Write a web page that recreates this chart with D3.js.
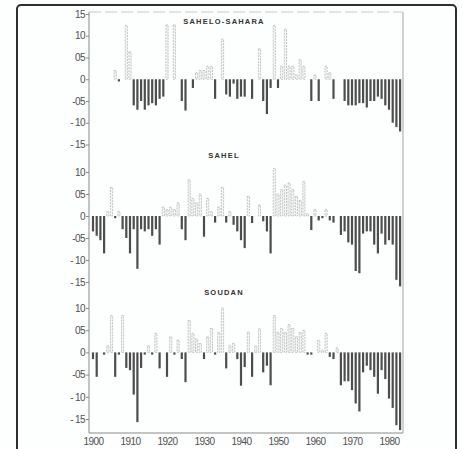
<!doctype html>
<html lang="fr">
  <head>
    <meta charset="UTF-8" />
    <title>Sahelo-Sahara, Sahel, Soudan</title>
    <script src="https://d3js.org/d3.v7.min.js"></script>
    <style>
      body {
        margin: 0;
        padding: 0;
        overflow: hidden;
        background-color: #fdfefe;
        font-family: 'Liberation Sans', Arial, sans-serif;
      }
      svg {
        display: block;
      }
      .tick-label {
        font-size: 10px;
        fill: #505050;
        letter-spacing: -0.6px;
      }
      .panel-title {
        font-size: 7.5px;
        font-weight: bold;
        fill: #333333;
        letter-spacing: 1.2px;
      }
    </style>
  </head>
  <body>
    <div id="chart"></div>
    <script>
      // Years 1900-1983
      const years = d3.range(1900, 1984)

      // Rainfall anomalies (0 = no bar)
      const sahelosahara = [
        0, 0, 0, 0, 0, 0, 0.2, -0.05, 0, 1.24,
        0.63, -0.6, -0.7, -0.5, -0.7, -0.6, -0.55, -0.6, -0.45, -0.4,
        1.25, 0, 1.25, 0, -0.5, -0.72, 0, -0.2, 0.15, 0.2,
        0.2, 0.3, 0.3, -0.45, 0, 0.92, -0.35, -0.4, -0.1, -0.45,
        -0.4, -0.4, 0, -0.45, 0, 0.7, -0.5, -0.8, -0.2, 1.24,
        -0.2, 0.3, 1.15, 0.3, 0.3, 0.1, 0.45, 0.3, 0, -0.5,
        0.1, -0.5, 0, 0.3, 0.15, -0.45, 0, 0, -0.5, -0.6,
        -0.6, -0.6, -0.55, -0.55, -0.65, -0.5, -0.5, -0.4, -0.45, -0.6,
        -0.7, -1.0, -1.1, -1.2,
      ]
      const sahel = [
        -0.35, -0.45, -0.55, -0.85, 0.1, 0.65, -0.05, 0.1, -0.3, -0.5,
        -0.85, -0.3, -1.2, -0.3, -0.35, -0.3, -0.45, -0.3, -0.65, 0.2,
        0.15, 0.2, 0.15, 0.3, -0.3, -0.55, 0.82, 0.4, 0.3, 0.5,
        -0.47, 0.4, 0.1, -0.15, 0.2, 0.65, -0.15, 0.1, -0.2, -0.35,
        -0.55, -0.73, 0.45, -0.16, 0, 0.25, -0.12, -0.35, -0.85, 1.08,
        0.5, 0.6, 0.7, 0.75, 0.6, 0.45, 0.35, 0.78, 0.05, -0.32,
        0.15, -0.1, -0.05, 0.15, -0.1, -0.15, 0, -0.43, -0.35, -0.6,
        -0.65, -1.25, -1.3, -0.4, -0.35, -0.35, -0.65, -0.85, -0.4, -0.65,
        -0.55, -0.65, -1.45, -1.6,
      ]
      const soudan = [
        -0.15, -0.55, 0, -0.05, 0.15, 0.83, -0.55, -0.05, 0.83, -0.35,
        -0.4, -0.95, -1.57, -0.35, -0.05, 0.15, -0.05, 0.43, -0.36, 0,
        -0.55, 0.35, -0.05, 0.28, -0.15, -0.67, 0.72, 0.43, 0.3, 0.2,
        -0.15, 0.35, 0.54, -0.05, 0.45, 1.0, -0.36, 0.15, 0.2, -0.15,
        -0.75, -0.33, 0.46, -0.55, 0.15, 0.53, -0.45, -0.3, -0.74, 0.83,
        0.45, 0.54, 0.45, 0.63, 0.54, 0.35, 0.45, 0.5, -0.05, -0.05,
        0, 0.27, 0.05, 0.43, -0.1, -0.15, 0.1, -0.74, -0.65, -0.65,
        -0.85, -1.15, -1.33, -0.45, -0.3, -0.4, -0.55, -0.93, -0.4, -0.6,
        -1.04, -1.25, -1.64, -1.75,
      ]

      const panelTitles = ['SAHELO-SAHARA', 'SAHEL', 'SOUDAN']
      const yearTicks = [1900, 1910, 1920, 1930, 1940, 1950, 1960, 1970, 1980]
      const topTicks = [1.5, 1.0, 0.5, 0, -0.5, -1.0, -1.5]
      const lowTicks = [1.0, 0.5, 0, -0.5, -1.0, -1.5]
      const tickText = { 1.5: '15', 1: '10', 0.5: '05', 0: '0', '-0.5': '-05', '-1': '- 10', '-1.5': '- 15' }

      const width = 463
      const height = 449
      const plotLeft = 89
      const plotRight = 403
      const plotTop = 12
      const plotBottom = 433

      const svg = d3
        .select('#chart')
        .append('svg')
        .attr('width', width)
        .attr('height', height)

      // Outer frame (bottom edge runs off the picture)
      svg
        .append('rect')
        .attr('x', 17)
        .attr('y', 5)
        .attr('width', 439)
        .attr('height', 520)
        .attr('rx', 4)
        .attr('fill', 'none')
        .attr('stroke', '#2e2e2e')
        .attr('stroke-width', 2)

      const xScale = d3.scaleLinear().domain([1900, 1980]).range([93, 389])
      const barW = 2.2

      const panels = [
        { title: panelTitles[0], values: sahelosahara, domain: [-1.5, 1.5], range: [144.5, 14], ticks: topTicks, titleY: 24 },
        { title: panelTitles[1], values: sahel, domain: [-1.5, 1.0], range: [282, 172], ticks: lowTicks, titleY: 158 },
        { title: panelTitles[2], values: soudan, domain: [-1.5, 1.0], range: [419, 308], ticks: lowTicks, titleY: 295 },
      ]

      panels.forEach((p) => {
        const y = d3.scaleLinear().domain(p.domain).range(p.range)
        const g = svg.append('g')

        // y axis ticks
        const axis = g
          .append('g')
          .attr('transform', `translate(${plotLeft}, 0)`)
          .call(
            d3
              .axisLeft(y)
              .tickValues(p.ticks)
              .tickSize(3)
              .tickFormat((d) => tickText[d])
          )
        axis.select('.domain').remove()
        axis.selectAll('.tick line').attr('stroke', '#888888')
        axis
          .selectAll('.tick text')
          .attr('class', 'tick-label')
          .attr('x', -4)
          .style('font-family', "'Liberation Sans', Arial, sans-serif")

        // bars
        const data = years.map((yr, i) => ({ year: yr, value: p.values[i] })).filter((d) => d.value !== 0)

        g.selectAll('.pos')
          .data(data.filter((d) => d.value > 0))
          .enter()
          .append('rect')
          .attr('x', (d) => xScale(d.year) - barW / 2)
          .attr('y', (d) => y(d.value))
          .attr('width', barW)
          .attr('height', (d) => y(0) - y(d.value))
          .attr('fill', '#f3f4f4')
          .attr('stroke', '#a3a3a3')
          .attr('stroke-width', 0.6)
          .attr('stroke-dasharray', '2,1')

        g.selectAll('.neg')
          .data(data.filter((d) => d.value < 0))
          .enter()
          .append('rect')
          .attr('x', (d) => xScale(d.year) - barW / 2)
          .attr('y', y(0))
          .attr('width', barW)
          .attr('height', (d) => y(d.value) - y(0))
          .attr('fill', '#4d4d4d')

        g.append('text')
          .attr('class', 'panel-title')
          .attr('x', 224)
          .attr('y', p.titleY)
          .attr('text-anchor', 'middle')
          .text(p.title)
      })

      // plot frame: left axis, right and top borders
      svg
        .append('line')
        .attr('x1', plotLeft)
        .attr('x2', plotLeft)
        .attr('y1', plotTop)
        .attr('y2', plotBottom)
        .attr('stroke', '#8a8a8a')
        .attr('stroke-width', 1)
      svg
        .append('line')
        .attr('x1', plotRight)
        .attr('x2', plotRight)
        .attr('y1', plotTop)
        .attr('y2', plotBottom)
        .attr('stroke', '#a5a5a5')
        .attr('stroke-width', 1)
      svg
        .append('line')
        .attr('x1', plotLeft)
        .attr('x2', plotRight)
        .attr('y1', plotTop)
        .attr('y2', plotTop)
        .attr('stroke', '#bdbdbd')
        .attr('stroke-width', 0.8)
        .attr('stroke-dasharray', '12,4')

      const xAxis = svg
        .append('g')
        .attr('transform', `translate(0, ${plotBottom})`)
        .call(d3.axisBottom(xScale).tickValues(yearTicks).tickSize(0).tickFormat((d) => d))
      xAxis
        .select('.domain')
        .attr('d', `M${plotLeft},0H${plotRight}`)
        .attr('stroke', '#8a8a8a')
      xAxis
        .selectAll('.tick text')
        .attr('class', 'tick-label')
        .attr('y', 5)
        .style('font-family', "'Liberation Sans', Arial, sans-serif")
    </script>
  </body>
</html>
